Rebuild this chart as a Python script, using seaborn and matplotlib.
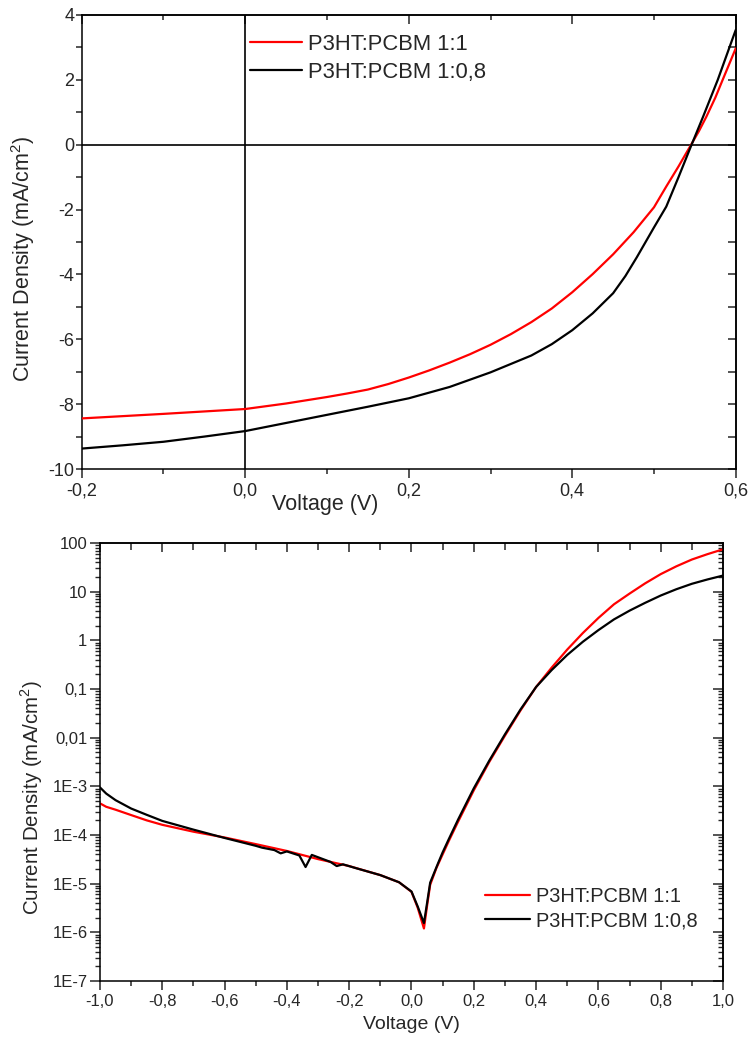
import numpy as np
import pandas as pd
import matplotlib
matplotlib.use("Agg")
import matplotlib.pyplot as plt
import seaborn as sns
from matplotlib.ticker import MultipleLocator, LogLocator, NullFormatter

# ---------------- data ----------------
series_names = ["P3HT:PCBM 1:1", "P3HT:PCBM 1:0,8"]
series_colors = ["#ff0000", "#000000"]

# Top panel: J-V under illumination (mA/cm2)
jv_v_11 = [-0.2, -0.1, 0.0, 0.05, 0.1, 0.125, 0.15, 0.175, 0.2, 0.225, 0.25, 0.275, 0.3,
           0.325, 0.35, 0.375, 0.4, 0.425, 0.45, 0.475, 0.5, 0.515, 0.53, 0.544, 0.555,
           0.564, 0.575, 0.584, 0.6]
jv_j_11 = [-8.44, -8.30, -8.15, -7.98, -7.78, -7.67, -7.55, -7.38, -7.18, -6.96, -6.72, -6.46,
           -6.17, -5.84, -5.47, -5.05, -4.55, -3.99, -3.38, -2.70, -1.93, -1.29, -0.67, -0.06,
           0.42, 0.86, 1.45, 2.00, 2.97]
jv_v_108 = [-0.2, -0.15, -0.1, -0.05, 0.0, 0.05, 0.1, 0.15, 0.2, 0.25, 0.3, 0.35, 0.375, 0.4,
            0.425, 0.45, 0.465, 0.479, 0.5, 0.515, 0.53, 0.545, 0.56, 0.578, 0.6]
jv_j_108 = [-9.37, -9.27, -9.16, -9.00, -8.83, -8.58, -8.33, -8.08, -7.82, -7.47, -7.02, -6.50,
            -6.15, -5.72, -5.20, -4.58, -4.05, -3.47, -2.55, -1.91, -1.00, -0.06, 0.86, 2.00, 3.54]

# Bottom panel: dark J-V, |J| (mA/cm2) on log scale
dark_v_11 = [-1.0, -0.98, -0.95, -0.9, -0.85, -0.8, -0.7, -0.6, -0.5, -0.4, -0.3, -0.2, -0.1,
             -0.04, 0.0, 0.02, 0.04, 0.05, 0.06, 0.08, 0.1, 0.12, 0.15, 0.2, 0.25, 0.3, 0.35,
             0.4, 0.45, 0.5, 0.55, 0.6, 0.65, 0.7, 0.75, 0.8, 0.85, 0.9, 0.95, 1.0]
dark_j_11 = [4.47e-4, 3.80e-4, 3.31e-4, 2.57e-4, 2.0e-4, 1.62e-4, 1.17e-4, 8.9e-5, 6.5e-5,
             4.7e-5, 3.2e-5, 2.3e-5, 1.5e-5, 1.07e-5, 6.8e-6, 3.2e-6, 1.2e-6, 3.5e-6, 9.5e-6,
             2.1e-5, 4.0e-5, 7.6e-5, 1.9e-4, 8.3e-4, 3.2e-3, 1.1e-2, 3.63e-2, 0.110, 0.275,
             0.646, 1.41, 2.88, 5.50, 9.12, 14.8, 22.9, 33.1, 45.7, 58.9, 74.1]
dark_v_108 = [-1.0, -0.98, -0.95, -0.9, -0.85, -0.8, -0.7, -0.6, -0.5, -0.48, -0.44, -0.42,
              -0.40, -0.36, -0.34, -0.32, -0.26, -0.24, -0.22, -0.18, -0.1, -0.04, 0.0, 0.02,
              0.04, 0.05, 0.06, 0.085, 0.1, 0.12, 0.15, 0.2, 0.25, 0.3, 0.35, 0.4, 0.45, 0.5,
              0.55, 0.6, 0.65, 0.7, 0.75, 0.8, 0.85, 0.9, 0.95, 1.0]
dark_j_108 = [9.5e-4, 7.1e-4, 5.2e-4, 3.5e-4, 2.6e-4, 1.95e-4, 1.29e-4, 8.7e-5, 6.0e-5, 5.5e-5,
              4.9e-5, 4.2e-5, 4.6e-5, 3.8e-5, 2.2e-5, 3.9e-5, 2.8e-5, 2.3e-5, 2.5e-5, 2.1e-5,
              1.5e-5, 1.07e-5, 6.9e-6, 3.4e-6, 1.55e-6, 4.0e-6, 1.05e-5, 2.6e-5, 4.4e-5, 8.3e-5,
              2.1e-4, 9.1e-4, 3.4e-3, 1.17e-2, 3.8e-2, 0.110, 0.245, 0.501, 0.933, 1.62, 2.69,
              4.07, 5.89, 8.32, 11.2, 14.5, 17.8, 21.4]

top_xticks = [-0.2, 0.0, 0.2, 0.4, 0.6]
top_xtick_labels = ["-0,2", "0,0", "0,2", "0,4", "0,6"]
top_yticks = [-10, -8, -6, -4, -2, 0, 2, 4]
top_ytick_labels = ["-10", "-8", "-6", "-4", "-2", "0", "2", "4"]
bot_xticks = [-1.0, -0.8, -0.6, -0.4, -0.2, 0.0, 0.2, 0.4, 0.6, 0.8, 1.0]
bot_xtick_labels = ["-1,0", "-0,8", "-0,6", "-0,4", "-0,2", "0,0", "0,2", "0,4", "0,6", "0,8", "1,0"]
bot_yticks = [1e-7, 1e-6, 1e-5, 1e-4, 1e-3, 1e-2, 1e-1, 1, 10, 100]
bot_ytick_labels = ["1E-7", "1E-6", "1E-5", "1E-4", "1E-3", "0,01", "0,1", "1", "10", "100"]

x_label = "Voltage (V)"
y_label = "Current Density (mA/cm$^2$)"

# ---------------- style ----------------
sns.set_style("ticks")
plt.rcParams["font.family"] = ["Liberation Sans", "DejaVu Sans"]
plt.rcParams["mathtext.fontset"] = "custom"
plt.rcParams["mathtext.rm"] = "Liberation Sans"
plt.rcParams["axes.linewidth"] = 1.1
plt.rcParams["axes.edgecolor"] = "black"

fig = plt.figure(figsize=(7.5, 10.39), dpi=100)
palette = dict(zip(series_names, series_colors))

# ---------------- top panel ----------------
ax1 = fig.add_axes([0.109, 0.5486, 0.872, 0.437])
df_top = pd.DataFrame({
    "V": jv_v_11 + jv_v_108,
    "J": jv_j_11 + jv_j_108,
    "s": [series_names[0]] * len(jv_v_11) + [series_names[1]] * len(jv_v_108),
})
ax1.axhline(0, color="black", lw=1.2, zorder=1)
ax1.axvline(0, color="black", lw=1.2, zorder=1)
sns.lineplot(data=df_top, x="V", y="J", hue="s", hue_order=series_names, palette=palette,
             lw=1.6, ax=ax1, sort=True, estimator=None, zorder=3)
ax1.set_xlim(-0.2, 0.6)
ax1.set_ylim(-10, 4)
ax1.set_xticks(top_xticks, labels=top_xtick_labels)
ax1.set_yticks(top_yticks, labels=top_ytick_labels)
ax1.xaxis.set_minor_locator(MultipleLocator(0.1))
ax1.yaxis.set_minor_locator(MultipleLocator(1))
ax1.tick_params(axis="x", which="major", direction="out", length=6.5, width=1.1, labelsize=13, pad=3)
ax1.tick_params(axis="x", which="minor", direction="out", length=3.3, width=1.1)
ax1.tick_params(axis="y", which="major", direction="out", length=4.3, width=1.1, labelsize=13, pad=1)
ax1.tick_params(axis="y", which="minor", direction="out", length=4.0, width=1.1)
ax1.set_xlabel(x_label, fontsize=15.5)
ax1.set_ylabel(y_label, fontsize=15.5)
ax1.xaxis.set_label_coords(0.372, -0.055)
ax1.yaxis.set_label_coords(-0.068, 0.4626)

t1 = ax1.secondary_xaxis("top")
t1.set_xticks(top_xticks)
t1.xaxis.set_minor_locator(MultipleLocator(0.1))
t1.tick_params(axis="x", which="major", direction="in", length=6.5, width=1.1, labeltop=False)
t1.tick_params(axis="x", which="minor", direction="in", length=3.3, width=1.1)
r1 = ax1.secondary_yaxis("right")
r1.set_yticks(top_yticks)
r1.yaxis.set_minor_locator(MultipleLocator(1))
r1.tick_params(axis="y", which="major", direction="in", length=6, width=1.1, labelright=False)
r1.tick_params(axis="y", which="minor", direction="in", length=6, width=1.1)

leg = ax1.get_legend()
handles = leg.legend_handles
labels = [t.get_text() for t in leg.get_texts()]
ax1.legend(handles, labels, loc="upper left", bbox_to_anchor=(0.257, 0.959), frameon=False,
           fontsize=15.8, borderpad=0, borderaxespad=0, handlelength=2.4, handletextpad=0.25,
           labelspacing=0.34)

# ---------------- bottom panel ----------------
ax2 = fig.add_axes([0.1333, 0.0558, 0.8307, 0.4216])
df_bot = pd.DataFrame({
    "V": dark_v_11 + dark_v_108,
    "J": dark_j_11 + dark_j_108,
    "s": [series_names[0]] * len(dark_v_11) + [series_names[1]] * len(dark_v_108),
})
sns.lineplot(data=df_bot, x="V", y="J", hue="s", hue_order=series_names, palette=palette,
             lw=1.6, ax=ax2, sort=True, estimator=None)
ax2.set_yscale("log")
ax2.set_xlim(-1.0, 1.0)
ax2.set_ylim(1e-7, 100)
ax2.set_xticks(bot_xticks, labels=bot_xtick_labels)
ax2.xaxis.set_minor_locator(MultipleLocator(0.1))
ax2.set_yticks(bot_yticks, labels=bot_ytick_labels)
ax2.yaxis.set_minor_locator(LogLocator(base=10, subs=np.arange(2, 10), numticks=100))
ax2.yaxis.set_minor_formatter(NullFormatter())
ax2.tick_params(axis="x", which="major", direction="out", length=6.5, width=1.1, labelsize=12, pad=3)
ax2.tick_params(axis="x", which="minor", direction="out", length=3.3, width=1.1)
ax2.tick_params(axis="y", which="major", direction="out", length=7, width=1.1, labelsize=12, pad=2)
ax2.tick_params(axis="y", which="minor", direction="out", length=3.5, width=1.0)
ax2.set_xlabel(x_label, fontsize=14)
ax2.set_ylabel(y_label, fontsize=14.8)
ax2.xaxis.set_label_coords(0.5, -0.08)
ax2.yaxis.set_label_coords(-0.088, 0.42)

t2 = ax2.secondary_xaxis("top")
t2.set_xticks(bot_xticks)
t2.xaxis.set_minor_locator(MultipleLocator(0.1))
t2.tick_params(axis="x", which="major", direction="in", length=6.5, width=1.1, labeltop=False)
t2.tick_params(axis="x", which="minor", direction="in", length=5, width=1.1)
r2 = ax2.secondary_yaxis("right")
r2.set_yticks(bot_yticks)
r2.yaxis.set_minor_locator(LogLocator(base=10, subs=np.arange(2, 10), numticks=100))
r2.yaxis.set_minor_formatter(NullFormatter())
r2.tick_params(axis="y", which="major", direction="in", length=7, width=1.1, labelright=False)
r2.tick_params(axis="y", which="minor", direction="in", length=3.5, width=1.0)

leg2 = ax2.get_legend()
handles2 = leg2.legend_handles
labels2 = [t.get_text() for t in leg2.get_texts()]
ax2.legend(handles2, labels2, loc="upper left", bbox_to_anchor=(0.618, 0.2146), frameon=False,
           fontsize=14.4, borderpad=0, borderaxespad=0, handlelength=2.25, handletextpad=0.3,
           labelspacing=0.25)

for ax in (ax1, ax2):
    for sp in ax.spines.values():
        sp.set_linewidth(1.1)
        sp.set_color("black")

fig.savefig("out.png", dpi=100)
